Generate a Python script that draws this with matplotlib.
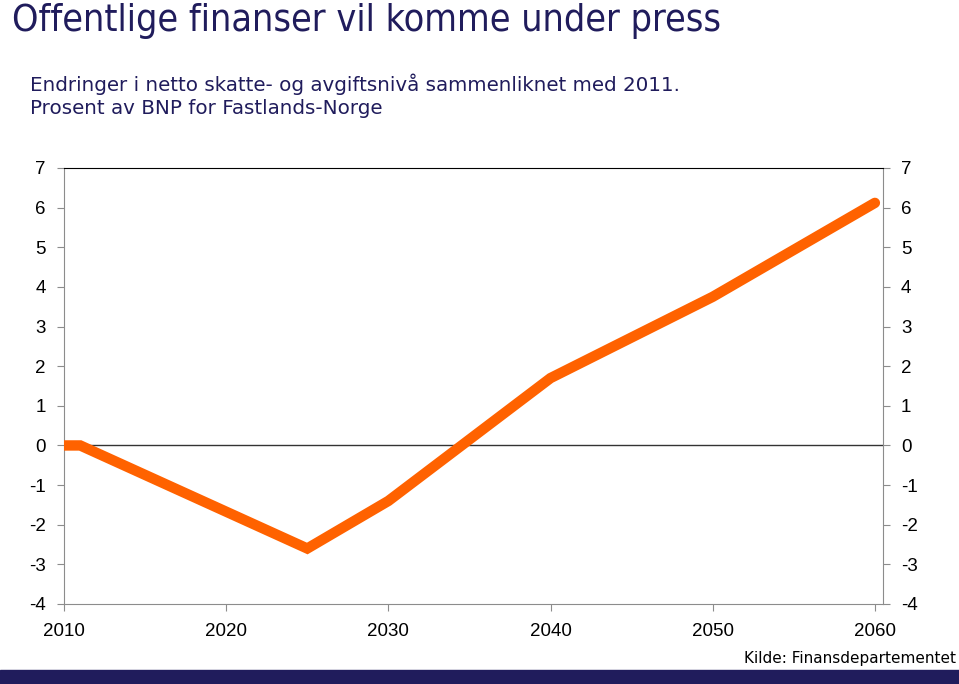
import matplotlib.pyplot as plt
from matplotlib.patches import Rectangle

plt.rcParams["axes.unicode_minus"] = False
plt.rcParams["font.family"] = "Liberation Sans"

years = [2010, 2011, 2025, 2030, 2040, 2050, 2060]
values = [0.0, 0.0, -2.6, -1.4, 1.7, 3.75, 6.12]
yticks = list(range(-4, 8))
xticks = [2010, 2020, 2030, 2040, 2050, 2060]

navy = "#201c5c"
orange = "#ff6200"
grey = "#8c8c8c"

fig = plt.figure(figsize=(9.59, 6.84), dpi=100)
ax = fig.add_axes([64 / 959, 1 - 604 / 684, (883 - 64) / 959, (604 - 168) / 684])

ax.plot(years, values, color=orange, lw=7.5, solid_capstyle="round", solid_joinstyle="miter", zorder=3)
ax.axhline(0, color="#333333", lw=1, zorder=2)

ax.set_xlim(2010, 2060.5)
ax.set_ylim(-4, 7)
ax.set_xticks(xticks)
ax.set_yticks(yticks)
ax.tick_params(axis="both", direction="out", length=5, color=grey, labelsize=13.5, labelcolor="black")
ax.tick_params(axis="x", pad=9)
ax.tick_params(axis="y", which="both", left=True, right=True, labelleft=True, labelright=True, pad=8)
for side in ["left", "right", "bottom"]:
    ax.spines[side].set_color(grey)
ax.spines["top"].set_color("black")

fig.text(12 / 959, 1 - 21 / 684, "Offentlige finanser vil komme under press", fontsize=27,
         family="DejaVu Sans", fontstretch="condensed", color=navy, va="center", ha="left")
fig.text(30 / 959, 1 - 84 / 684, "Endringer i netto skatte- og avgiftsnivå sammenliknet med 2011.",
         fontsize=14.3, family="DejaVu Sans", color=navy, va="center", ha="left")
fig.text(30 / 959, 1 - 108 / 684, "Prosent av BNP for Fastlands-Norge",
         fontsize=14.3, family="DejaVu Sans", color=navy, va="center", ha="left")
fig.text(956 / 959, 1 - 658 / 684, "Kilde: Finansdepartementet", fontsize=11,
         family="DejaVu Sans", color="black", va="center", ha="right")

fig.patches.append(Rectangle((0, 0), 1, 14 / 684, transform=fig.transFigure, color=navy))

fig.savefig("out.png", dpi=100)
